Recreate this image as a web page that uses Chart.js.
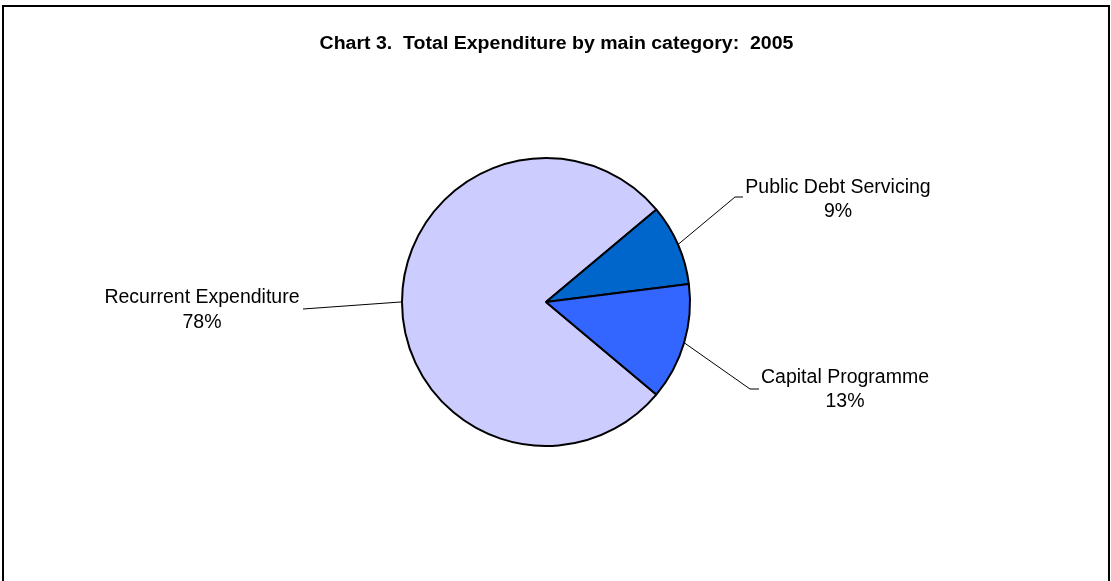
<!DOCTYPE html>
<html>

<head>
  <title>Total Expenditure 2005</title>
  <meta charset="UTF-8">
  <script src="https://cdn.jsdelivr.net/npm/chart.js"></script>
  <style>
    html,
    body {
      margin: 0;
      padding: 0;
      background: white;
    }

    .chart-container {
      width: 1111px;
      height: 581px;
    }
  </style>
</head>

<body>
  <div class="chart-container">
    <canvas id="mainChart"></canvas>
  </div>

  <script>
    const chartTitle = 'Chart 3.  Total Expenditure by main category:  2005';
    const categories = ['Recurrent Expenditure', 'Public Debt Servicing', 'Capital Programme'];
    const shares = [77.8, 9.1, 13.1];
    const sliceColors = ['#CCCCFF', '#0066CC', '#3366FF'];

    // where each label sits: leader elbow, leader end, text centre and the two baselines
    const labelSpots = [
      { elbow: [303, 309], end: [303, 309], x: 202, y1: 303, y2: 328 },
      { elbow: [735, 197], end: [743, 197], x: 838, y1: 192.5, y2: 216.5 },
      { elbow: [750, 389], end: [759, 389], x: 845, y1: 383, y2: 407 }
    ];

    const frame = {
      id: 'frame',
      beforeDraw(chart) {
        const ctx = chart.ctx;
        ctx.save();
        ctx.strokeStyle = '#000';
        ctx.lineWidth = 2;
        ctx.strokeRect(3, 6, 1106, 600);
        ctx.restore();
      },
      afterDraw(chart) {
        // title: the original is a little wider than the font
        const ctx = chart.ctx;
        ctx.save();
        ctx.translate(556.5, 49.3);
        ctx.scale(1.085, 1);
        ctx.fillStyle = '#000';
        ctx.font = 'bold 18px "Liberation Sans", Arial, sans-serif';
        ctx.textAlign = 'center';
        ctx.textBaseline = 'alphabetic';
        ctx.fillText(chartTitle, 0, 0);
        ctx.restore();
      }
    };

    const sliceLabels = {
      id: 'sliceLabels',
      afterDatasetsDraw(chart) {
        const ctx = chart.ctx;
        const meta = chart.getDatasetMeta(0);
        const data = chart.data.datasets[0].data;
        const total = data.reduce((a, b) => a + b, 0);
        ctx.save();
        meta.data.forEach((arc, i) => {
          const p = arc.getProps(['x', 'y', 'startAngle', 'endAngle', 'outerRadius'], true);
          const mid = (p.startAngle + p.endAngle) / 2;
          const sx = p.x + Math.cos(mid) * p.outerRadius;
          const sy = p.y + Math.sin(mid) * p.outerRadius;
          const spot = labelSpots[i];

          ctx.strokeStyle = '#000';
          ctx.lineWidth = 1;
          ctx.beginPath();
          ctx.moveTo(sx, sy);
          ctx.lineTo(spot.elbow[0], spot.elbow[1]);
          ctx.lineTo(spot.end[0], spot.end[1]);
          ctx.stroke();

          ctx.fillStyle = '#000';
          ctx.font = '19.5px "Liberation Sans", Arial, sans-serif';
          ctx.textAlign = 'center';
          ctx.textBaseline = 'alphabetic';
          ctx.fillText(chart.data.labels[i], spot.x, spot.y1);
          ctx.fillText(Math.round(data[i] / total * 100) + '%', spot.x, spot.y2);
        });
        ctx.restore();
      }
    };

    const ctx = document.getElementById('mainChart').getContext('2d');

    new Chart(ctx, {
      type: 'pie',
      data: {
        labels: categories,
        datasets: [{
          data: shares,
          backgroundColor: sliceColors,
          borderColor: '#000',
          borderWidth: 2,
          hoverOffset: 0
        }]
      },
      options: {
        responsive: true,
        maintainAspectRatio: false,
        animation: false,
        rotation: 130,
        radius: 144,
        layout: {
          padding: { left: 0, right: 19, top: 23, bottom: 0 }
        },
        plugins: {
          legend: { display: false },
          tooltip: { enabled: false },
          title: { display: false }
        }
      },
      plugins: [frame, sliceLabels]
    });
  </script>
</body>

</html>
